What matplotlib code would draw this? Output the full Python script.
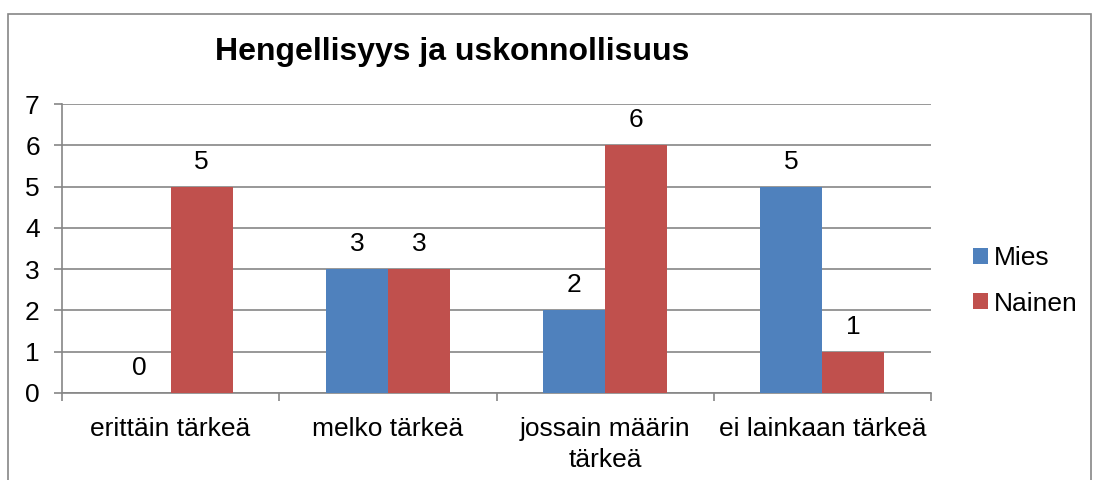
import matplotlib
matplotlib.use("Agg")
import matplotlib.pyplot as plt
from matplotlib.patches import Rectangle, Patch
import numpy as np

plt.rcParams['font.family'] = ['Liberation Sans', 'DejaVu Sans']

categories = ["erittäin tärkeä", "melko tärkeä", "jossain määrin\ntärkeä", "ei lainkaan tärkeä"]
series_names = ["Mies", "Nainen"]
mies = [0, 3, 2, 5]
nainen = [5, 3, 6, 1]
colors = ["#4F81BD", "#C0504D"]
title = "Hengellisyys ja uskonnollisuus"

FS = 19
W, H = 1094, 480
fig = plt.figure(figsize=(W / 100, H / 100), dpi=100)
ax = fig.add_axes([62 / W, 1 - 393 / H, (931 - 62) / W, (393 - 104) / H])

# outer chart border
fig.add_artist(Rectangle((8 / W, -0.1), (1091 - 8) / W, 1.1 - 14 / H, transform=fig.transFigure,
                         fill=False, edgecolor="#868686", linewidth=1.2))

x = np.arange(len(categories))
bw = 62 / ((931 - 62) / 4)
b1 = ax.bar(x - bw / 2, mies, bw, color=colors[0], label=series_names[0], zorder=3)
b2 = ax.bar(x + bw / 2, nainen, bw, color=colors[1], label=series_names[1], zorder=3)

for bars, vals in ((b1, mies), (b2, nainen)):
    for rect, v in zip(bars, vals):
        ax.annotate(str(v), (rect.get_x() + rect.get_width() / 2, v), xytext=(0, 18),
                    textcoords="offset points", ha="center", va="center", fontsize=FS)

ax.set_xlim(-0.5, len(categories) - 0.5)
ax.set_ylim(0, 7)
ax.set_yticks(range(0, 8))
ax.yaxis.grid(True, color="#868686", linewidth=1.2, zorder=0)
ax.set_axisbelow(True)

ax.set_xticks(x)
ax.set_xticklabels(categories, fontsize=FS, linespacing=1.4)
ax.set_xticks(np.arange(-0.5, len(categories)), minor=True)
ax.tick_params(axis="x", which="major", length=0, pad=17)
ax.tick_params(axis="x", which="minor", length=6, width=1.2, color="#868686")
ax.tick_params(axis="y", length=6, width=1.2, color="#868686", labelsize=FS, pad=10)

for s in ("top", "right"):
    ax.spines[s].set_visible(False)
for s in ("left", "bottom"):
    ax.spines[s].set_color("#868686")
    ax.spines[s].set_linewidth(1.2)

fig.text(452 / W, 1 - 52 / H, title, ha="center", va="center", fontsize=23, fontweight="bold")

handles = [Patch(facecolor=c, label=n) for c, n in zip(colors, series_names)]
fig.legend(handles=handles, loc="center left", bbox_to_anchor=(960 / W, 1 - 281 / H),
           frameon=False, fontsize=FS, handlelength=0.55, handleheight=0.55,
           handletextpad=0.22, labelspacing=0.8, borderpad=0)

fig.savefig("out.png", dpi=100)
